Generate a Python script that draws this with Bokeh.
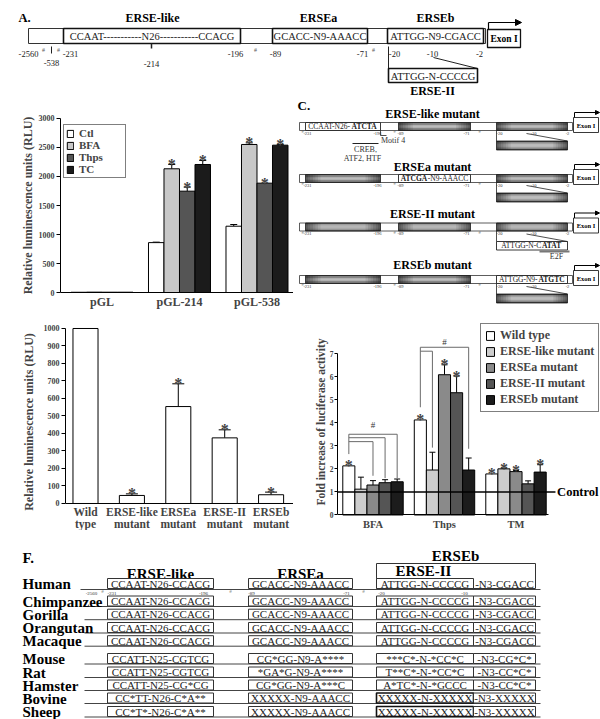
import math
from bokeh.plotting import figure
from bokeh.layouts import row, column
from bokeh.models import (Range1d, ColumnDataSource, Whisker, TeeHead, Label, FixedTicker,
                          LinearAxis, Legend, LegendItem, Arrow, NormalHead)
from bokeh.core.properties import value
from bokeh.embed import file_html
from bokeh.resources import INLINE

SERIF = "Liberation Serif"

# ======================= DATA =======================
# Panel B
b_groups = ["pGL", "pGL-214", "pGL-538"]
b_series = ["Ctl", "BFA", "Thps", "TC"]
b_colors = ["white", "#c8c8c8", "#555555", "#1b1b1b"]
b_ctl = [4, 860, 1143]
b_ctl_err = [0, 8, 29]
b_bfa = [6, 2133, 2552]
b_bfa_err = [0, 74, 28]
b_thps = [5, 1747, 1885]
b_thps_err = [0, 69, 0]
b_tc = [5, 2207, 2540]
b_tc_err = [0, 69, 10]
b_ctl_sig = [0, 0, 0]
b_bfa_sig = [0, 1, 1]
b_thps_sig = [0, 1, 1]
b_tc_sig = [0, 1, 1]
b_yticks = [0, 500, 1000, 1500, 2000, 2500, 3000]

# Panel D
d_labels_1 = ["Wild", "ERSE-like", "ERSEa", "ERSE-II", "ERSEb"]
d_labels_2 = ["type", "mutant", "mutant", "mutant", "mutant"]
d_values = [1000, 46, 554, 375, 50]
d_err = [0, 9, 130, 46, 15]
d_sig = [0, 1, 1, 1, 1]
d_yticks = [0, 100, 200, 300, 400, 500, 600, 700, 800, 900, 1000]

# Panel E
e_groups = ["BFA", "Thps", "TM"]
e_series = ["Wild type", "ERSE-like mutant", "ERSEa mutant", "ERSE-II mutant", "ERSEb mutant"]
e_colors = ["white", "#cdcdcd", "#8a8a8a", "#555555", "#1c1c1c"]
e_wild = [2.13, 4.12, 1.78]
e_wild_err = [0, 0, 0]
e_like = [1.12, 1.95, 2.00]
e_like_err = [0.52, 0.77, 0.03]
e_a = [1.30, 6.08, 1.88]
e_a_err = [0.19, 0.43, 0.05]
e_ii = [1.40, 5.30, 1.35]
e_ii_err = [0.13, 0.72, 0.13]
e_b = [1.44, 1.95, 1.86]
e_b_err = [0.12, 0.52, 0.32]
e_wild_sig = [1, 1, 1]
e_like_sig = [0, 0, 1]
e_a_sig = [0, 1, 1]
e_ii_sig = [0, 1, 0]
e_b_sig = [0, 0, 1]
e_yticks = [0, 1, 2, 3, 4, 5, 6, 7]
e_control = 1.0
e_br_group = [0, 0, 0, 1, 1]
e_br_target = [2, 3, 4, 1, 4]
e_br_level = [3.18, 3.35, 3.50, 7.10, 7.27]
e_br_end = [1.70, 1.60, 1.60, 2.92, 2.87]
e_br_start = [2.64, 4.67]
e_hash_y = [3.88, 7.49]

# Panel F
f_species = ["Human", "Chimpanzee", "Gorilla", "Orangutan", "Macaque",
             "Mouse", "Rat", "Hamster", "Bovine", "Sheep"]
f_erse_like = ["CCAAT-N26-CCACG", "CCAAT-N26-CCACG", "CCAAT-N26-CCACG", "CCAAT-N26-CCACG",
               "CCAAT-N26-CCACG", "CCATT-N25-CGTCG", "CCATT-N25-CGTCG", "CCATT-N25-CG*CG",
               "CC*TT-N26-C*A**", "CC*T*-N26-C*A**"]
f_ersea = ["GCACC-N9-AAACC", "GCACC-N9-AAACC", "GCACC-N9-AAACC", "GCACC-N9-AAACC",
           "GCACC-N9-AAACC", "CG*GG-N9-A****", "*GA*G-N9-A****", "CG*GG-N9-A***C",
           "XXXXX-N9-AAACC", "XXXXX-N9-AAACC"]
f_erseii = ["ATTGG-N-CCCCG", "ATTGG-N-CCCCG", "ATTGG-N-CCCCG", "ATTGG-N-CCCCG",
            "ATTGG-N-CCCCG", "***C*-N-*CC*C", "T**C*-N-*CC*C", "A*TC*-N-*GCCC",
            "XXXXX-N-XXXXX", "XXXXX-N-XXXXX"]
f_n3 = ["-N3-CGACC", "-N3-CGACC", "-N3-CGACC", "-N3-CGACC", "-N3-CGACC",
        "-N3-CG*C*", "-N3-CC*C*", "-N3-CC*C*", "-N3-XXXXX", "-N3-XXXXX"]

# ======================= HELPERS =======================
def canvas(w, h, x0, x1, y0, y1):
    p = figure(width=w, height=h, x_range=Range1d(x0, x1), y_range=Range1d(y1, y0),
               x_axis_type=None, y_axis_type=None, output_backend="svg",
               toolbar_location=None, min_border=0)
    p.outline_line_color = None
    return p


def chart(w, h, xr, yr, left):
    p = figure(width=w, height=h, x_range=Range1d(*xr), y_range=Range1d(*yr),
               output_backend="svg", toolbar_location=None, min_border=0,
               min_border_left=left, min_border_right=0, min_border_top=0,
               min_border_bottom=0)
    p.grid.visible = False
    p.outline_line_color = None
    return p


def T(p, x, y, s, size, bold=False, align="center", base="middle", color="black", angle=0.0):
    p.text(x=[x], y=[y], text=[s], text_font=value(SERIF), text_font_size=f"{size}px",
           text_font_style="bold" if bold else "normal", text_align=align,
           text_baseline=base, text_color=color, angle=angle)


def box(p, x0, x1, y0, y1, lw=1.0, lc="#222222", fill="white"):
    p.quad(left=[x0], right=[x1], top=[y0], bottom=[y1], fill_color=fill,
           line_color=lc, line_width=lw)


def seg(p, x0, y0, x1, y1, lw=1.0, lc="#222222"):
    p.segment(x0=[x0], y0=[y0], x1=[x1], y1=[y1], line_color=lc, line_width=lw)


def cyl(p, x0, x1, y0, y1):
    n = 10
    h = (y1 - y0) / n
    L, R, TT, B, C = [], [], [], [], []
    for i in range(n):
        t = (i + 0.5) / n * 2 - 1
        g = int(38 + 130 * (1 - t * t))
        L.append(x0); R.append(x1); TT.append(y0 + i * h); B.append(y0 + (i + 1) * h)
        C.append("#%02x%02x%02x" % (g, g, g))
    p.quad(left=L, right=R, top=TT, bottom=B, fill_color=C, line_color=None)
    m = 6
    w = (x1 - x0) * 0.2 / m
    L, R, A = [], [], []
    for k in range(m):
        a = 0.5 * (1 - k / m)
        L += [x0 + k * w, x1 - (k + 1) * w]
        R += [x0 + (k + 1) * w, x1 - k * w]
        A += [a, a]
    p.quad(left=L, right=R, top=[y0] * len(L), bottom=[y1] * len(L), fill_color="black",
           fill_alpha=A, line_color=None)
    p.quad(left=[x0], right=[x1], top=[y0], bottom=[y1], fill_color=None,
           line_color="#222222", line_width=0.8)


W_REG = {'A': .722, 'C': .667, 'G': .722, 'T': .611, 'N': .722, '-': .333}
W_BOLD = {'A': .722, 'C': .722, 'G': .778, 'T': .667, 'N': .722, '-': .333}


def tw(s, size, bold):
    tab = W_BOLD if bold else W_REG
    return sum(tab.get(c, .5) for c in s) * size


def mixed(p, cx, y, parts, size, sx=1.0, color="#222222"):
    widths = [tw(s, size, b) / sx for s, b in parts]
    x = cx - sum(widths) / 2
    for (s, b), w in zip(parts, widths):
        T(p, x, y, s, size, b, "left", "middle", color)
        x += w


def style_axis(ax, size, ticks=True):
    ax.axis_line_color = "black"
    ax.axis_line_width = 1
    ax.minor_tick_line_color = None
    if ticks:
        ax.major_tick_line_color = "black"
        ax.major_tick_out = 4
        ax.major_tick_in = 0
    else:
        ax.major_tick_line_color = None
        ax.major_tick_out = 0
        ax.major_tick_in = 0
    ax.major_label_text_font = SERIF
    ax.major_label_text_font_style = "bold"
    ax.major_label_text_font_size = f"{size}px"
    ax.major_label_standoff = 2
    ax.axis_label_text_font = SERIF
    ax.axis_label_text_font_style = "bold"


def add_err(p, xs, vals, errs, head):
    sel = [i for i, e in enumerate(errs) if e > 0]
    if not sel:
        return
    src = ColumnDataSource(dict(x=[xs[i] for i in sel], lo=[vals[i] for i in sel],
                                hi=[vals[i] + errs[i] for i in sel]))
    p.add_layout(Whisker(source=src, base="x", lower="lo", upper="hi", dimension="height",
                         line_color="black", line_width=1, lower_head=None,
                         upper_head=TeeHead(size=head, line_color="black", line_width=1)))


def add_stars(p, xs, vals, errs, sig, size=16):
    sel = [i for i, s in enumerate(sig) if s]
    if not sel:
        return
    p.text(x=[xs[i] for i in sel], y=[vals[i] + errs[i] for i in sel], text=["*"] * len(sel),
           text_font=value(SERIF), text_font_style="bold", text_font_size=f"{size}px",
           text_align="center", text_baseline="alphabetic", text_color="#444444")


def letter(p, x, y, s, size=13):
    p.add_layout(Label(x=x, y=y, text=s, text_font=SERIF, text_font_size=f"{size}px",
                       text_font_style="bold", text_baseline="middle", text_align="left"))

# ======================= PANEL A =======================
fa = canvas(600, 97, 0, 600, 0, 97)
T(fa, 18, 17, "A.", 12.5, True, "left")
for name, cx in [("ERSE-like", 152), ("ERSEa", 318), ("ERSEb", 435)]:
    T(fa, cx, 17, name, 12, True)
box(fa, 28, 485, 28, 43, lw=1, lc="#333333")
box(fa, 63, 240, 28, 43, lw=1.6, lc="#111111")
box(fa, 272, 367, 28, 43, lw=1.6, lc="#111111")
box(fa, 387, 483, 28, 43, lw=1.6, lc="#111111")
T(fa, 151.5, 36, "CCAAT-----------N26-----------CCACG", 10.5, color="#222222")
T(fa, 319.5, 36, "GCACC-N9-AAACC", 10.5, color="#222222")
T(fa, 435, 36, "ATTGG-N9-CGACC", 10.5, color="#222222")
box(fa, 487, 520, 29, 47, lw=1.3, lc="#111111")
T(fa, 503.5, 38.5, "Exon I", 9.5, True)
seg(fa, 488, 29, 488, 22, lw=1.2, lc="black")
fa.add_layout(Arrow(end=NormalHead(size=6, fill_color="black", line_color="black"),
                    x_start=488, y_start=22, x_end=521, y_end=22, line_width=1.2))
for x, s in [(28, "-2560"), (70, "-231"), (235, "-196"), (275, "-89"), (362, "-71"),
             (394, "-20"), (432, "-10"), (479, "-2")]:
    T(fa, x, 53.5, s, 8.5, color="#222222")
T(fa, 51, 62.5, "-538", 8.5, color="#222222")
T(fa, 151, 63.5, "-214", 8.5, color="#222222")
seg(fa, 51, 46, 51, 53, lw=1)
seg(fa, 151, 43, 151, 48, lw=1.5)
for x in [43, 58, 255, 373]:
    T(fa, x, 49, "#", 6, color="#555555")
seg(fa, 388, 46, 388, 68, lw=1)
seg(fa, 433, 57, 477, 68, lw=1)
box(fa, 388, 477, 68, 82, lw=1.6, lc="#111111")
T(fa, 432.5, 75.5, "ATTGG-N-CCCCG", 10.5, color="#222222")
T(fa, 432, 90.5, "ERSE-II", 12, True)

# ======================= PANEL B =======================
# figure spans page y 97..313; value 0 at y=292, 58 px per 1000
fb = chart(293, 216, (-0.5355, 2.471), (-362, 3362), 60)
b_vals = [b_ctl, b_bfa, b_thps, b_tc]
b_errs = [b_ctl_err, b_bfa_err, b_thps_err, b_tc_err]
b_sigs = [b_ctl_sig, b_bfa_sig, b_thps_sig, b_tc_sig]
b_w = 0.2
b_rends = []
for k in range(len(b_series)):
    xs = [g + (k - 1.5) * b_w for g in range(len(b_groups))]
    r = fb.vbar(x=xs, top=b_vals[k], width=b_w, bottom=0, fill_color=b_colors[k],
                line_color="black", line_width=1)
    b_rends.append(r)
    add_err(fb, xs, b_vals[k], b_errs[k], 7)
    add_stars(fb, xs, b_vals[k], b_errs[k], b_sigs[k])
for ax in fb.yaxis:
    style_axis(ax, 8)
    ax.ticker = FixedTicker(ticks=b_yticks)
    ax.bounds = (0, 3000)
    ax.axis_label = "Relative luminescence units (RLU)"
    ax.axis_label_text_font_size = "12px"
    ax.axis_label_standoff = 1
for ax in fb.xaxis:
    style_axis(ax, 12, ticks=False)
    ax.fixed_location = 0
    ax.ticker = FixedTicker(ticks=list(range(len(b_groups))))
    ax.major_label_overrides = {i: g for i, g in enumerate(b_groups)}
    ax.major_label_standoff = 2
fb.add_layout(Legend(items=[LegendItem(label=b_series[k], renderers=[b_rends[k]])
                            for k in range(len(b_series))],
                     location=(3, 135), border_line_color="black", border_line_width=1,
                     label_text_font=SERIF, label_text_font_style="bold",
                     label_text_font_size="11px", glyph_width=8, glyph_height=9,
                     label_height=11, label_width=44, label_standoff=5, spacing=0,
                     padding=2, margin=0))
letter(fb, -1.03, 3103, "B.")

# ======================= PANEL C =======================
fc = canvas(307, 216, 293, 600, 97, 313)
T(fc, 297, 105, "C.", 13, True, "left")
c_titles = ["ERSE-like mutant", "ERSEa mutant", "ERSE-II mutant", "ERSEb mutant"]
c_yc = [126, 178, 226.5, 279]
c_ty = [113, 166, 213, 264.5]
c_mut = ["like", "a", "ii", "b"]
c_parts = [[("CCAAT-N26-", False), ("ATCTA", True)],
           [("ATCGA", True), ("-N9-AAACC", False)],
           [("ATTGG-N-C", False), ("ATAT", True)],
           [("ATTGG-N9-", False), ("ATGTC", True)]]
c_regions = {"like": (305, 380), "a": (398, 470), "b": (496, 567)}
for r in range(4):
    yc = c_yc[r]
    T(fc, 432, c_ty[r], c_titles[r], 12, True)
    box(fc, 299, 572, yc - 4, yc + 4, lw=0.8, lc="#333333")
    for key, (x0, x1) in c_regions.items():
        if key == c_mut[r]:
            box(fc, x0, x1, yc - 4, yc + 4, lw=0.9, lc="#222222")
            mixed(fc, (x0 + x1) / 2, yc, c_parts[r], 7.5)
        else:
            cyl(fc, x0, x1, yc - 4, yc + 4)
    if c_mut[r] == "ii":
        box(fc, 496, 567, yc + 14.5, yc + 23, lw=0.9, lc="#222222")
        mixed(fc, 531.5, yc + 18.75, c_parts[r], 7.5)
    else:
        cyl(fc, 496, 567, yc + 14.5, yc + 23.5)
    seg(fc, 496, yc + 4, 496, yc + 14.5, lw=0.8)
    seg(fc, 526, yc + 7, 567, yc + 14.5, lw=0.8)
    box(fc, 573, 598, yc - 9, yc + 6, lw=0.9, lc="#222222")
    T(fc, 585.5, yc - 1.5, "Exon I", 6.5, True)
    seg(fc, 574, yc - 9, 574, yc - 14, lw=1, lc="black")
    fc.add_layout(Arrow(end=NormalHead(size=4, fill_color="black", line_color="black"),
                        x_start=574, y_start=yc - 14, x_end=599, y_end=yc - 14, line_width=1))
    for x, s in [(307, "-231"), (377, "-196"), (400, "-89"), (466, "-71"), (499, "-20"),
                 (533, "-10"), (567, "-2")]:
        T(fc, x, yc + 6.5, s, 4.5, color="#333333")
    for x in [302, 394, 479]:
        T(fc, x, yc + 5, "#", 4.5, color="#555555")
# row 1 annotations
seg(fc, 380, 130, 380, 135, lw=0.8)
seg(fc, 380, 135, 386, 135, lw=0.8)
T(fc, 380.5, 140, "Motif 4", 8, color="#333333", align="left")
seg(fc, 352, 143, 378, 143, lw=1)
T(fc, 365, 149, "CREB,", 8, color="#333333")
T(fc, 362, 157.5, "ATF2, HTF", 8, color="#333333")
# row 3 annotation
seg(fc, 539, 251, 569, 251, lw=2, lc="#777777")
T(fc, 556, 256, "E2F", 8, color="#333333")

# ======================= PANEL D =======================
# figure spans page y 313..530; value 0 at y=503, 0.175 px per unit
fd = chart(293, 217, (-0.431, 4.483), (-154.3, 1085.7), 65)
d_x = list(range(len(d_values)))
fd.vbar(x=d_x, top=d_values, width=0.54, bottom=0, fill_color="white", line_color="black",
        line_width=1)
add_err(fd, d_x, d_values, d_err, 12)
add_stars(fd, d_x, d_values, d_err, d_sig)
for ax in fd.yaxis:
    style_axis(ax, 8)
    ax.ticker = FixedTicker(ticks=d_yticks)
    ax.bounds = (0, 1000)
    ax.axis_label = "Relative luminescence units (RLU)"
    ax.axis_label_text_font_size = "12px"
    ax.axis_label_standoff = 5
for ax in fd.xaxis:
    style_axis(ax, 11.5, ticks=False)
    ax.fixed_location = 0
    ax.ticker = FixedTicker(ticks=d_x)
    ax.major_label_overrides = {i: s for i, s in enumerate(d_labels_1)}
    ax.major_label_standoff = 3
ax2 = LinearAxis(ticker=FixedTicker(ticks=d_x), fixed_location=-63,
                 major_label_overrides={i: s for i, s in enumerate(d_labels_2)})
style_axis(ax2, 11.5, ticks=False)
ax2.axis_line_color = None
ax2.major_label_standoff = 3
fd.add_layout(ax2, "below")
letter(fd, -1.36, 1051, "D.")

# ======================= PANEL E =======================
# figure spans page y 313..530; value 0 at y=514.5, 23.07 px per unit
fe = chart(307, 217, (-0.4965, 3.1818), (-0.672, 8.734), 44)
e_vals = [e_wild, e_like, e_a, e_ii, e_b]
e_errs = [e_wild_err, e_like_err, e_a_err, e_ii_err, e_b_err]
e_sigs = [e_wild_sig, e_like_sig, e_a_sig, e_ii_sig, e_b_sig]
e_w = 0.169


def ex(g, k):
    return g + (k - 2) * e_w


e_rends = []
for k in range(len(e_series)):
    xs = [ex(g, k) for g in range(len(e_groups))]
    r = fe.vbar(x=xs, top=e_vals[k], width=e_w, bottom=0, fill_color=e_colors[k],
                line_color="black", line_width=1)
    e_rends.append(r)
    add_err(fe, xs, e_vals[k], e_errs[k], 6)
    add_stars(fe, xs, e_vals[k], e_errs[k], e_sigs[k])
# brackets
bx0, by0, bx1, by1 = [], [], [], []
for g, t, lvl, end in zip(e_br_group, e_br_target, e_br_level, e_br_end):
    bx0 += [ex(g, 0), ex(g, t)]
    by0 += [lvl, lvl]
    bx1 += [ex(g, t), ex(g, t)]
    by1 += [lvl, end]
br_groups = sorted(set(e_br_group))
for j, g in enumerate(br_groups):
    top = max(l for gg, l in zip(e_br_group, e_br_level) if gg == g)
    bx0.append(ex(g, 0)); by0.append(top); bx1.append(ex(g, 0)); by1.append(e_br_start[j])
fe.segment(x0=bx0, y0=by0, x1=bx1, y1=by1, line_color="#6a6a6a", line_width=1)
fe.text(x=br_groups, y=e_hash_y, text=["#"] * len(br_groups), text_font=value(SERIF),
        text_font_size="9px", text_align="center", text_baseline="middle", text_color="#333333")
# control line
fe.segment(x0=[-0.4965], y0=[e_control], x1=[2.552], y1=[e_control], line_color="black",
           line_width=1.5)
fe.text(x=[2.575], y=[e_control], text=["Control"], text_font=value(SERIF),
        text_font_style="bold", text_font_size="12.5px", text_align="left",
        text_baseline="middle")
for ax in fe.yaxis:
    style_axis(ax, 7.5)
    ax.major_tick_out = 3
    ax.major_label_standoff = 1
    ax.ticker = FixedTicker(ticks=e_yticks)
    ax.bounds = (0, 7)
    ax.axis_label = "Fold increase of luciferase activity"
    ax.axis_label_text_font_size = "11.5px"
    ax.axis_label_standoff = 0
for ax in fe.xaxis:
    style_axis(ax, 10.5, ticks=False)
    ax.fixed_location = 0
    ax.ticker = FixedTicker(ticks=list(range(len(e_groups))))
    ax.major_label_overrides = {i: g for i, g in enumerate(e_groups)}
    ax.bounds = (-0.4965, 2.455)
    ax.major_label_standoff = 4
fe.add_layout(Legend(items=[LegendItem(label=e_series[k], renderers=[e_rends[k]])
                            for k in range(len(e_series))],
                     location=(143, 118), border_line_color="black", border_line_width=1,
                     label_text_font=SERIF, label_text_font_style="bold",
                     label_text_font_size="12px", glyph_width=10, glyph_height=11,
                     label_height=13, label_standoff=5, spacing=1, padding=4, margin=0))
letter(fe, -0.944, 8.34, "E.")

# ======================= PANEL F =======================
ff = canvas(600, 189, 0, 600, 530, 719)
T(ff, 22, 557, "F.", 15, True, "left")
T(ff, 160, 573, "ERSE-like", 15, True)
T(ff, 300, 573, "ERSEa", 15, True)
T(ff, 455, 555, "ERSEb", 15, True)
box(ff, 376, 535, 563, 588, lw=1, lc="#333333", fill=None)
T(ff, 423, 570.5, "ERSE-II", 15, True)
f_rows = [583, 600.5, 613.7, 627, 640.2, 658, 671.5, 684.5, 697.5, 711]
for i, sp in enumerate(f_species):
    yc = f_rows[i]
    if i == 0:
        seg(ff, 80, yc + 6, 540, yc + 6, lw=1, lc="#444444")
    else:
        seg(ff, 84, yc + 5.5, 540, yc + 5.5, lw=1, lc="#444444")
    T(ff, 22, yc + 0.5, sp, 15, True, "left")
    heavy = i >= 8
    box(ff, 107, 213, yc - 5, yc + 5, lw=1, lc="#333333")
    box(ff, 248, 352, yc - 5, yc + 5, lw=1, lc="#333333")
    box(ff, 376, 473, yc - 5, yc + 5, lw=1.6 if heavy else 1, lc="#111111" if heavy else "#333333")
    if i > 0:
        box(ff, 473, 535, yc - 5, yc + 5, lw=1, lc="#333333")
    T(ff, 160, yc, f_erse_like[i], 11, color="#222222")
    T(ff, 300, yc, f_ersea[i], 11, color="#222222")
    T(ff, 424.5, yc, f_erseii[i], 11, color="#222222")
    T(ff, 504, yc, f_n3[i], 11, color="#222222")
for x, s in [(91, "-2560"), (111.5, "-231"), (203, "-196"), (251, "-89"), (346, "-71"),
             (381, "-20"), (464, "-10")]:
    T(ff, x, 593, s, 5, color="#333333")
for x in [102, 230, 363]:
    T(ff, x, 591, "#", 5, color="#555555")

layout = column(fa, row(fb, fc, spacing=0), row(fd, fe, spacing=0), ff, spacing=0)
open("out.html", "w").write(file_html(layout, INLINE))
